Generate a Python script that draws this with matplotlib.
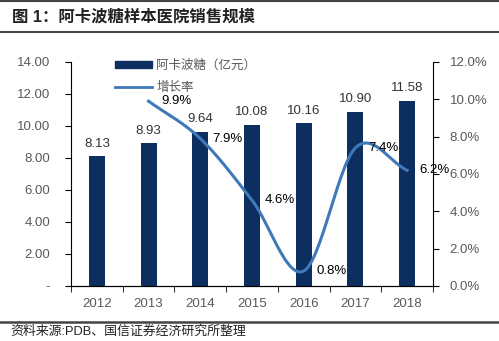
import matplotlib
matplotlib.use('Agg')
import matplotlib.pyplot as plt
from matplotlib.lines import Line2D
from matplotlib.patches import Patch
import numpy as np

plt.rcParams['font.family'] = ['Liberation Sans', 'Noto Sans CJK SC', 'DejaVu Sans']

years = ['2012', '2013', '2014', '2015', '2016', '2017', '2018']
sales = [8.13, 8.93, 9.64, 10.08, 10.16, 10.90, 11.58]
growth_years = ['2013', '2014', '2015', '2016', '2017', '2018']
growth = [9.9, 7.9, 4.6, 0.8, 7.4, 6.2]

bar_color = '#0c2f5f'
line_color = '#4079b8'
tick_color = '#595959'


def smooth(xs, ys, n=30):
    # catmull-rom, like the excel "smoothed line" option
    xs = np.asarray(xs, float)
    ys = np.asarray(ys, float)
    px = np.concatenate([[2 * xs[0] - xs[1]], xs, [2 * xs[-1] - xs[-2]]])
    py = np.concatenate([[2 * ys[0] - ys[1]], ys, [2 * ys[-1] - ys[-2]]])
    ox, oy = [], []
    t = np.linspace(0, 1, n)
    for i in range(1, len(px) - 2):
        for p, o in ((px, ox), (py, oy)):
            p0, p1, p2, p3 = p[i - 1], p[i], p[i + 1], p[i + 2]
            o.extend(0.5 * (2 * p1 + (-p0 + p2) * t
                            + (2 * p0 - 5 * p1 + 4 * p2 - p3) * t ** 2
                            + (-p0 + 3 * p1 - 3 * p2 + p3) * t ** 3))
    return np.array(ox), np.array(oy)


fig = plt.figure(figsize=(4.99, 3.41), dpi=100)
ax = fig.add_axes([0.1423, 0.1613, 0.7254, 0.6569])
x = np.arange(len(years))
ax.bar(x, sales, width=0.31, color=bar_color, zorder=2)
for xi, v in zip(x, sales):
    ax.text(xi, v + 0.4, '%.2f' % v, ha='center', va='bottom', fontsize=9.5, color='#333333')

ax.set_xlim(-0.5, len(years) - 0.5)
ax.set_ylim(0, 14)
ax.set_yticks(np.arange(0, 14.01, 2))
ax.set_yticklabels(['-' if v == 0 else '%.2f' % v for v in np.arange(0, 14.01, 2)])
ax.set_xticks(x)
ax.set_xticklabels(years)
ax.set_xticks(np.arange(-0.5, len(years), 1), minor=True)
ax.tick_params(axis='x', which='major', length=0, pad=9, labelsize=9.5, labelcolor=tick_color)
ax.tick_params(axis='x', which='minor', length=4, direction='out', color='black')
ax.tick_params(axis='y', length=4, labelsize=9.5, labelcolor=tick_color, pad=11)
ax.spines['top'].set_visible(False)
ax.spines['right'].set_visible(False)

ax2 = ax.twinx()
gx = [years.index(y) for y in growth_years]
sx, sy = smooth(gx, growth)
ax2.plot(sx, sy, color=line_color, lw=2.2, zorder=3)
for xi, v in zip(gx, growth):
    ax2.text(xi + 0.24, v, '%.1f%%' % v, ha='left', va='center', fontsize=9.5, color='black')
ax2.set_ylim(0, 12)
ax2.set_yticks(np.arange(0, 12.01, 2))
ax2.set_yticklabels(['%.1f%%' % v for v in np.arange(0, 12.01, 2)])
ax2.tick_params(axis='y', length=4, labelsize=9.5, labelcolor=tick_color, pad=8)
ax2.spines['top'].set_visible(False)
ax2.spines['left'].set_visible(False)

handles = [Patch(color=bar_color), Line2D([], [], color=line_color, lw=2)]
leg = ax2.legend(handles, ['阿卡波糖（亿元）', '增长率'], loc='upper left',
                 bbox_to_anchor=(0.09, 1.06), frameon=False, fontsize=9,
                 handlelength=3.0, handleheight=0.5, handletextpad=0.3, labelspacing=0.8)
for t in leg.get_texts():
    t.set_color(tick_color)

# title bar and source note
fig.add_artist(Line2D([0, 1], [0.996, 0.996], color='#444444', lw=1.5))
fig.add_artist(Line2D([0, 1], [0.906, 0.906], color='#444444', lw=1.5))
fig.text(0.024, 0.952, '图 1：阿卡波糖样本医院销售规模', fontsize=11.8, fontweight='bold',
         va='center', ha='left', color='#222222')
fig.add_artist(Line2D([0, 1], [0.056, 0.056], color='#444444', lw=1.8))
fig.text(0.02, 0.028, '资料来源:PDB、国信证券经济研究所整理', fontsize=9.3,
         va='center', ha='left', color='#222222')

fig.savefig('out.png', dpi=100)
